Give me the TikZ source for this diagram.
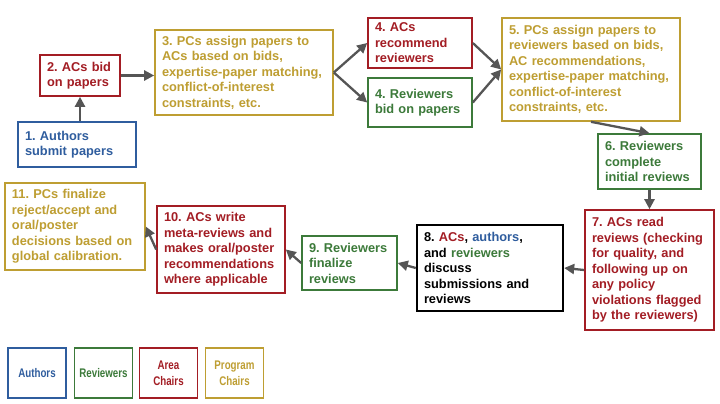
\documentclass[tikz,border=0pt]{standalone}
\usepackage{fontspec}
\setmainfont{Liberation Sans}
\newfontfamily\keyfont[FakeStretch=0.78]{Liberation Sans}
\usepackage{xcolor}
\usetikzlibrary{arrows.meta, positioning}

\definecolor{authc}{HTML}{2F5D9E}
\definecolor{revc}{HTML}{3C7A3A}
\definecolor{acc}{HTML}{A31D24}
\definecolor{pcc}{HTML}{BE9E32}
\definecolor{arrc}{HTML}{555555}

\frenchspacing
\begin{document}
\begin{tikzpicture}[x=1pt, y=-1pt,
        box/.style={rectangle, draw, line width=1.6pt, font=\bfseries\fontsize{12.8}{15.5}\selectfont, align=left, inner xsep=7pt, inner ysep=3pt},
        authbox/.style={box, draw=authc, text=authc},
        revbox/.style={box, draw=revc, text=revc},
        acbox/.style={box, draw=acc, text=acc},
        pcbox/.style={box, draw=pcc, text=pcc},
        keybox/.style={rectangle, draw, line width=1.6pt, font=\keyfont\bfseries\fontsize{12.5}{16}\selectfont, align=center, minimum width=58pt, minimum height=50pt},
        flow/.style={-{Triangle[length=10pt, width=10pt]}, line width=2.3pt, draw=arrc}
    ]
        \useasboundingbox[fill=white] (0,0) rectangle (720,404);

        % Steps
        \node[authbox, text width=104pt, minimum height=45pt] (authors) at (77,144.5) {1. Authors\\submit papers};
        \node[acbox, text width=66pt, minimum height=41pt] (acbid) at (80,75.5) {2. ACs bid\\on papers};
        \node[pcbox, text width=164pt, minimum height=85pt] (pcac) at (244,72.5) {3. PCs assign papers to\\ACs based on bids,\\expertise-paper matching,\\conflict-of-interest\\constraints, etc.};
        \node[acbox, text width=90pt, minimum height=50pt] (acrec) at (420,43) {4. ACs\\recommend\\reviewers};
        \node[revbox, text width=90pt, minimum height=49pt] (revbid) at (420,102.5) {4. Reviewers\\bid on papers};
        \node[pcbox, text width=164pt, minimum height=103pt] (pcrev) at (591,69.5) {5. PCs assign papers to\\reviewers based on bids,\\AC recommendations,\\expertise-paper matching,\\conflict-of-interest\\constraints, etc.};
        \node[revbox, text width=89pt, minimum height=55pt] (revinit) at (649.5,161.5) {6. Reviewers\\complete\\initial reviews};
        \node[acbox, text width=115pt, minimum height=120pt] (acread) at (649.5,270) {7. ACs read\\reviews (checking\\for quality, and\\following up on\\any policy\\violations flagged\\by the reviewers)};
        \node[box, draw=black, line width=2.4pt, text width=132pt, minimum height=86pt] (discuss) at (490,268) {8. \textcolor{acc}{ACs}, \textcolor{authc}{authors},\\and \textcolor{revc}{reviewers}\\discuss\\submissions and\\reviews};
        \node[revbox, text width=81pt, minimum height=54pt] (revfin) at (349.5,263) {9. Reviewers\\finalize\\reviews};
        \node[acbox, text width=114pt, minimum height=87pt] (acmeta) at (221,249.5) {10. ACs write\\meta-reviews and\\makes oral/poster\\recommendations\\where applicable};
        \node[pcbox, text width=126pt, minimum height=87pt] (pcfin) at (75,226.5) {11. PCs finalize\\reject/accept and\\oral/poster\\decisions based on\\global calibration.};

        % Flow
        \draw[flow] (acbid.south |- authors.north) -- (acbid.south);
        \draw[flow] (acbid.east) -- (pcac.west |- acbid.east);
        \draw[flow] (pcac.east) -- (acrec.west);
        \draw[flow] (pcac.east) -- (revbid.west);
        \draw[flow] (acrec.east) -- (pcrev.west);
        \draw[flow] (revbid.east) -- (pcrev.west);
        \draw[flow] (pcrev.south) -- (revinit.north);
        \draw[flow] (revinit.south) -- (acread.north);
        \draw[flow] (acread.west) -- (discuss.east);
        \draw[flow] (discuss.west) -- (revfin.east);
        \draw[flow] (revfin.west) -- (acmeta.east);
        \draw[flow] (acmeta.west) -- (pcfin.east);

        % Legend
        \node[keybox, draw=authc, text=authc] (keyauth) at (37,373) {Authors};
        \node[keybox, draw=revc, text=revc] (keyrev) at (103.5,373) {Reviewers};
        \node[keybox, draw=acc, text=acc] (keyac) at (168.5,373) {Area\\Chairs};
        \node[keybox, draw=pcc, text=pcc] (keypc) at (234.5,373) {Program\\Chairs};
\end{tikzpicture}
\end{document}
